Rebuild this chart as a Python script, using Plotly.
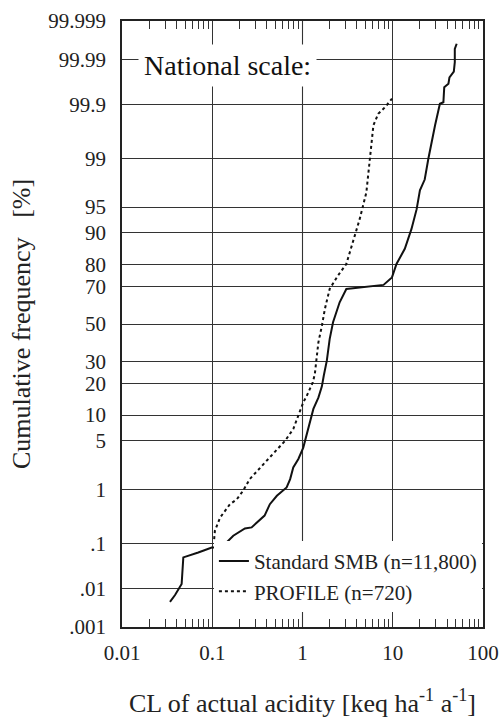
import plotly.graph_objects as go
from statistics import NormalDist

nd = NormalDist()

def z(p):
    return nd.inv_cdf(p / 100.0)

# Standard SMB (n=11,800)
smb_x = [0.034, 0.0387, 0.0458, 0.0478, 0.070, 0.0988, 0.1196, 0.144, 0.171, 0.23, 0.273,
         0.38, 0.435, 0.52, 0.667, 0.73, 0.79, 0.90, 1.02, 1.11, 1.32, 1.50, 1.64, 1.72, 1.86,
         2.0, 2.18, 2.58, 3.06, 3.63, 7.9, 9.8, 11.0, 13.6, 16.1, 18.4, 20.0, 22.6, 24.8,
         29.4, 32.0, 33.3, 36.4, 37.2, 41.4, 42.5, 47.5, 48.7, 48.7, 51.1]
smb_p = [0.0046, 0.0068, 0.0126, 0.051, 0.065, 0.083, 0.083, 0.105, 0.144, 0.20, 0.21,
         0.35, 0.56, 0.78, 1.07, 1.45, 2.17, 2.87, 4.1, 6.1, 11.6, 15.0, 19.0, 23.3, 30.3,
         41.6, 51.0, 62.0, 68.9, 69.3, 70.9, 74.4, 80.1, 85.5, 90.9, 94.7, 97.0, 97.9, 99.0,
         99.74, 99.867, 99.903, 99.91, 99.957, 99.964, 99.974, 99.981, 99.9886, 99.9946, 99.996]

# PROFILE (n=720)
prof_x = [0.105, 0.107, 0.122, 0.138, 0.157, 0.187, 0.22, 0.26, 0.34, 0.455, 0.64, 0.79,
          0.90, 1.02, 1.11, 1.21, 1.30, 1.37, 1.50, 1.64, 1.77, 2.0, 2.47, 3.06, 3.63, 4.3,
          5.1, 5.6, 6.1, 6.9, 8.2, 9.8]
prof_p = [0.123, 0.18, 0.32, 0.43, 0.56, 0.68, 0.95, 1.45, 2.17, 3.18, 5.0, 6.96,
          9.8, 13.5, 15.5, 18.0, 20.5, 24.1, 39.8, 49.0, 58.4, 68.9, 75.2, 80.1, 87.5, 93.0,
          96.8, 99.0, 99.74, 99.845, 99.886, 99.924]

y_ticks = [0.001, 0.01, 0.1, 1, 5, 10, 20, 30, 50, 70, 80, 90, 95, 99, 99.9, 99.99, 99.999]
y_ticktext = [".001", ".01", ".1", "1", "5", "10", "20", "30", "50", "70", "80", "90", "95",
              "99", "99.9", "99.99", "99.999"]
x_ticks = [0.01, 0.1, 1, 10, 100]
x_ticktext = ["0.01", "0.1", "1", "10", "100"]
x_minor = [m * 10 ** e for e in (-2, -1, 0, 1) for m in range(2, 10)]

FONT = "Liberation Serif"

fig = go.Figure()
fig.add_trace(go.Scatter(x=smb_x, y=[z(p) for p in smb_p], mode="lines",
                         name="Standard SMB (n=11,800)",
                         line=dict(color="#111", width=2)))
fig.add_trace(go.Scatter(x=prof_x, y=[z(p) for p in prof_p], mode="lines",
                         name="PROFILE (n=720)",
                         line=dict(color="#111", width=2, dash="dot")))

fig.update_layout(
    width=500, height=720,
    margin=dict(l=122, r=17, t=21, b=93, autoexpand=False),
    paper_bgcolor="white", plot_bgcolor="white",
    font=dict(family=FONT, size=21, color="#222"),
    showlegend=True,
    legend=dict(x=0.997, y=0.025, xanchor="right", yanchor="bottom",
                bgcolor="white", borderwidth=0, font=dict(family=FONT, size=21),
                tracegroupgap=0),
)

fig.update_xaxes(
    type="log", range=[-2, 2], automargin=False,
    tickvals=x_ticks, ticktext=x_ticktext,
    showgrid=True, gridcolor="#333", gridwidth=1,
    showline=True, linecolor="#222", linewidth=1.5, mirror="ticks",
    ticks="inside", ticklen=18, tickcolor="#333",
    minor=dict(tickvals=x_minor, ticks="inside", ticklen=8, tickcolor="#333", showgrid=False),
    ticklabelstandoff=6,
    title=dict(text="CL of actual acidity [keq ha<sup>-1</sup> a<sup>-1</sup>]",
               font=dict(family=FONT, size=26), standoff=30),
    zeroline=False,
)
fig.update_yaxes(
    range=[z(0.001), z(99.999)], automargin=False,
    tickvals=[z(v) for v in y_ticks], ticktext=y_ticktext,
    showgrid=True, gridcolor="#333", gridwidth=1,
    showline=True, linecolor="#222", linewidth=1.5, mirror="ticks",
    ticks="inside", ticklen=14, tickcolor="#333",
    ticklabelstandoff=10,
    title=dict(text="Cumulative frequency&nbsp;&nbsp;&nbsp;[%]",
               font=dict(family=FONT, size=26), standoff=10),
    zeroline=False,
)

# lighter grid line at x = 1, as in the original
fig.add_vline(x=1, line_color="#999", line_width=1.2, layer="below")

fig.add_annotation(
    text="National scale:", xref="paper", yref="paper",
    x=0.044, y=0.927, xanchor="left", yanchor="middle",
    showarrow=False, bgcolor="white", borderpad=5,
    font=dict(family=FONT, size=28, color="#111"),
)

fig.write_html(
    "out.html",
    config={"displayModeBar": False},
    post_script="document.body.style.margin='0';document.body.style.overflow='hidden';"
                "document.documentElement.style.overflow='hidden';",
)
